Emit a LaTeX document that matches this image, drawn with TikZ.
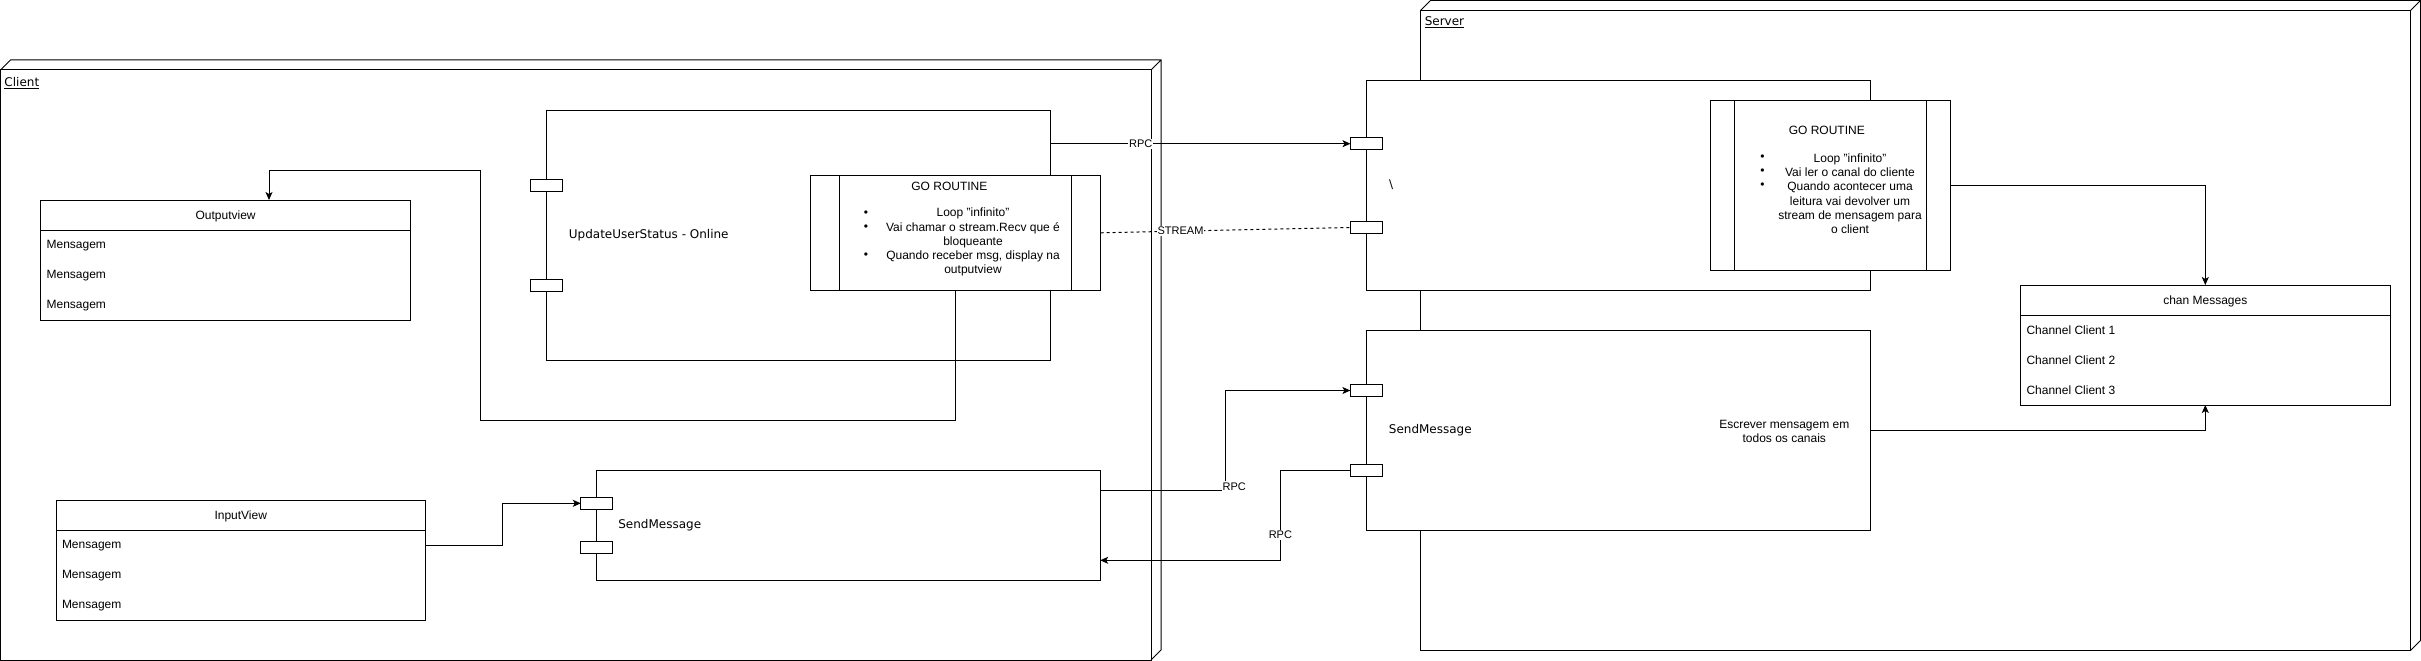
\documentclass[tikz,border=0pt]{standalone}
\usepackage{fontspec}
\setmainfont{Liberation Sans}
\newfontfamily\djv{DejaVu Sans}
\usetikzlibrary{arrows.meta,calc}
\tikzset{
  box/.style={draw,fill=white,inner sep=0pt,outer sep=0pt,anchor=north west},
  port/.style={draw,fill=white,inner sep=0pt,outer sep=0pt,minimum width=32pt,minimum height=12pt},
  arr/.style={-{Stealth[length=8pt,width=7pt,inset=2pt]}},
  lbl/.style={fill=white,inner sep=1pt,font=\fontsize{11}{13}\selectfont},
  dj/.style={font=\fontsize{12}{14}\djv,inner sep=0pt},
  row/.style={anchor=west,inner sep=0pt},
}
\begin{document}
\begin{tikzpicture}[x=1pt,y=-1pt,line width=1pt,every node/.style={font=\fontsize{12}{14.2}\selectfont}]
        \useasboundingbox (0,0) rectangle (2421,661);
        \node[box,minimum width=1150.5pt,minimum height=590pt] (client) at (0.5,70) {};
        \draw (client.north west) -- ++(10,-10) -| ($(client.south east)+(10,-10)$) -- (client.south east)
              (client.north east) -- ++(10,-10);
        \node[dj,anchor=base west] (clientlbl) at (4,86.5) {\underline{Client}};
        \node[box,minimum width=990pt,minimum height=640pt] (server) at (1420.5,10.5) {};
        \draw (server.north west) -- ++(10,-10) -| ($(server.south east)+(10,-10)$) -- (server.south east)
              (server.north east) -- ++(10,-10);
        \node[dj,anchor=base west] (serverlbl) at (1424.3,25.5) {\underline{Server}};
        \node[box,minimum width=370pt,minimum height=120pt] (outview) at (40.6,200) {};
        \draw ($(outview.north west)+(0,30)$) -- ($(outview.north east)+(0,30)$);
        \node (outtitle) at ($(outview.north)+(0,16)$) {Outputview};
        \foreach \i in {1,2,3} \node[row] (outrow\i) at ($(outview.north west)+(5.5,15.3+30*\i)$) {Mensagem};
        \node[box,minimum width=369.5pt,minimum height=120pt] (inview) at (56,500) {};
        \draw ($(inview.north west)+(0,30)$) -- ($(inview.north east)+(0,30)$);
        \node (intitle) at ($(inview.north)+(0,16)$) {InputView};
        \foreach \i in {1,2,3} \node[row] (inrow\i) at ($(inview.north west)+(5.5,15.3+30*\i)$) {Mensagem};
        \node[box,minimum width=370pt,minimum height=120pt] (chan) at (2020.3,285) {};
        \draw ($(chan.north west)+(0,30)$) -- ($(chan.north east)+(0,30)$);
        \node (chantitle) at ($(chan.north)+(0,16)$) {chan Messages};
        \foreach \i in {1,2,3} \node[row] (chanrow\i) at ($(chan.north west)+(5.7,15.3+30*\i)$) {Channel Client \i};
        \node[box,minimum width=504.4pt,minimum height=249.7pt] (update) at (546.4,110.3) {};
        \node[port] (upt1) at ($(update.north west)+(0,75)$) {};
        \node[port] (upt2) at ($(update.north west)+(0,175)$) {};
        \node[dj,anchor=west] (updlbl) at ($(update.west)+(22,0)$) {UpdateUserStatus - Online};
        \node[box,minimum width=290pt,minimum height=115pt] (croutine) at (810.5,175.3) {};
        \draw ($(croutine.north west)+(29,0)$) -- ($(croutine.south west)+(29,0)$)
              ($(croutine.north east)+(-29,0)$) -- ($(croutine.south east)+(-29,0)$);
        \node (cgo) at (949.4,186) {GO ROUTINE};
        \node[align=center,inner sep=0pt] (clist) at (973,242.2) {Loop "infinito"\\Vai chamar o stream.Recv que é\\bloqueante\\Quando receber msg, display na\\outputview};
        \foreach \y in {213.3,227.3,255.7} \node at (866,\y) {\textbullet};
        \node[box,minimum width=503.4pt,minimum height=110pt] (csend) at (596.8,470.3) {};
        \node[port] (cpt1) at ($(csend.north west)+(0,33)$) {};
        \node[port] (cpt2) at ($(csend.north west)+(0,77)$) {};
        \node[dj,anchor=west] (csendlbl) at ($(csend.west)+(21,0)$) {SendMessage};
        \node[box,minimum width=504pt,minimum height=209.7pt] (srvmain) at (1366.5,80.3) {};
        \node[port] (spt1) at ($(srvmain.north west)+(0,63.4)$) {};
        \node[port] (spt2) at ($(srvmain.north west)+(0,147.2)$) {};
        \node[dj,anchor=west] (srvlbl) at ($(srvmain.west)+(22,0)$) {\textbackslash};
        \node[box,minimum width=240pt,minimum height=170pt] (sroutine) at (1710.3,100.3) {};
        \draw ($(sroutine.north west)+(24,0)$) -- ($(sroutine.south west)+(24,0)$)
              ($(sroutine.north east)+(-24,0)$) -- ($(sroutine.south east)+(-24,0)$);
        \node (sgo) at (1826.8,130.3) {GO ROUTINE};
        \node[align=center,inner sep=0pt] (slist) at (1850,193.7) {Loop "infinito"\\Vai ler o canal do cliente\\Quando acontecer uma\\leitura vai devolver um\\stream de mensagem para\\o client};
        \foreach \y in {157.7,171.7,185.7} \node at (1762.5,\y) {\textbullet};
        \node[box,minimum width=504pt,minimum height=199.7pt] (ssend) at (1366.4,330.3) {};
        \node[port] (sspt1) at ($(ssend.north west)+(0,60.2)$) {};
        \node[port] (sspt2) at ($(ssend.north west)+(0,140)$) {};
        \node[dj,anchor=west] (ssendlbl) at ($(ssend.west)+(22,0)$) {SendMessage};
        \node[align=center,inner sep=0pt] (sdesc) at (1784.3,431.5) {Escrever mensagem em\\todos os canais};
        \draw[arr] (update.north east |- spt1) -- (spt1.west) node[lbl,pos=0.3] {RPC};
        \draw[dash pattern=on 3pt off 3pt] (croutine.east) -- (spt2.west) node[lbl,pos=0.32] {STREAM};
        \draw[arr] (croutine.south) -- ++(0,130) -| (480,170) -| ($(outview.north west)+(228.4,0)$);
        \draw[arr] (sroutine.east) -| (chan.north);
        \draw[arr] (ssend.east) -| (chan.south);
        \draw[arr] (inrow1 -| inview.east) -- ++(77,0) |- (cpt1.west);
        \draw[arr] ($(csend.north east)+(0,20)$) -- ++(125,0) node[lbl,xshift=9pt,yshift=4pt] {RPC} |- (sspt1.west);
        \draw[arr] (sspt2.west) -- ++(-70,0) |- ($(csend.south east)+(0,-20)$) node[lbl,pos=0.36] {RPC};
\end{tikzpicture}
\end{document}
